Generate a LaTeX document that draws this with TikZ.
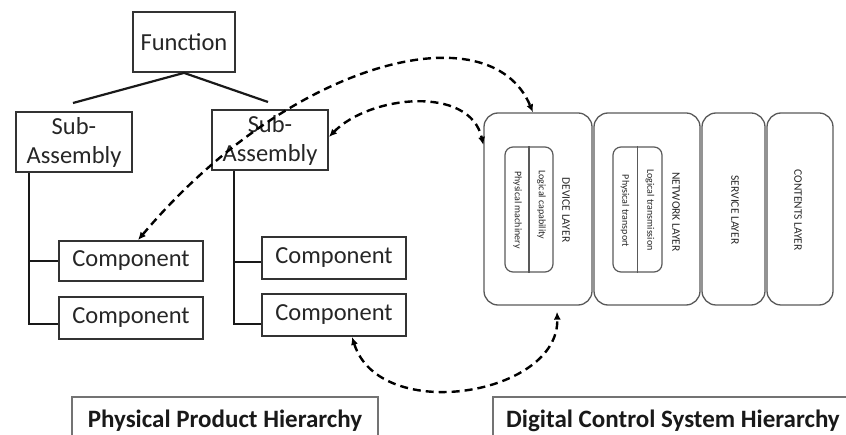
\documentclass[tikz,border=0pt]{standalone}
\usepackage{fontspec}
\setmainfont{Carlito}
\usetikzlibrary{arrows.meta,calc}

\begin{document}
\begin{tikzpicture}[x=1pt,y=-1pt,
  pbox/.style={draw=black!80, line width=1.8pt, fill=white, inner sep=2pt,
    font=\fontsize{24.5}{29}\selectfont, text=black!85},
  captionbox/.style={draw=black!55, line width=1.4pt, inner sep=0pt,
    font=\fontsize{25}{30}\selectfont\bfseries, text=black!90},
  layerbox/.style={draw=black!65, line width=1.3pt, rounded corners=14pt,
    minimum height=192pt, inner sep=0pt},
  innerbox/.style={draw=black!65, line width=1.2pt, rounded corners=8pt,
    minimum height=125pt, inner sep=0pt},
  layertext/.style={rotate=-90, font=\fontsize{10}{12}\selectfont, text=black!85, inner sep=0pt},
  layername/.style={layertext, font=\fontsize{11.5}{13}\selectfont},
  treeline/.style={line width=2.2pt, draw=black!90},
  dashlink/.style={line width=2.4pt, dash pattern=on 8pt off 5pt,
    {Latex[length=8pt,width=7pt]}-{Latex[length=8pt,width=7pt]}}
]
\useasboundingbox (0,0) rectangle (846,435);

% ---- product tree ----
\node[pbox, minimum width=102pt, minimum height=60pt] (func) at (184,42) {Function};
\node[pbox, minimum width=116pt, minimum height=60pt, align=center] (subL) at (74,142) {Sub-\\Assembly};
\node[pbox, minimum width=116pt, minimum height=60pt, align=center] (subR) at (270,140) {Sub-\\Assembly};

\node[pbox, minimum width=144pt, minimum height=40pt] (compL1) at (131,261) {Component};
\node[pbox, minimum width=144pt, minimum height=42pt] (compL2) at (131,318) {Component};
\node[pbox, minimum width=144pt, minimum height=42pt] (compR1) at (334,258) {Component};
\node[pbox, minimum width=144pt, minimum height=42pt] (compR2) at (334,315) {Component};

\coordinate (fl) at (73,103);
\coordinate (fr) at (268,102);
\draw[treeline] (fl) -- (func.south) -- (fr);

\coordinate (trunkL) at (29,0);
\coordinate (trunkR) at (234,0);
\draw[treeline] (trunkL |- subL.south) |- ([yshift=-6pt]compL2.west);
\draw[treeline] (trunkL |- compL1.west) -- (compL1.west);
\draw[treeline] (trunkR |- subR.south) |- ([yshift=-9pt]compR2.west);
\draw[treeline] ([yshift=-4pt]compR1.west -| trunkR) -- ([yshift=-4pt]compR1.west);

% ---- control system layers ----
\node[layerbox, minimum width=108pt] (dev) at (538,209) {};
\node[layerbox, minimum width=106pt] (net) at (647,209) {};
\node[layerbox, minimum width=63pt] (srv) at (733.5,209) {};
\node[layerbox, minimum width=66pt] (cnt) at (800,209) {};

\node[innerbox, minimum width=48pt] (devIn) at (529,209.5) {};
\draw[draw=black!65, line width=1.2pt] (devIn.north) -- (devIn.south);
\node[innerbox, minimum width=49pt] (netIn) at (637.5,209.5) {};
\draw[draw=black!65, line width=1.2pt] (netIn.north) -- (netIn.south);

\node[layertext] (t1) at (517.5,210) {Physical machinery};
\node[layertext] (t2) at (541.5,205) {Logical capability};
\node[layername] (t3) at (566,210) {DEVICE LAYER};
\node[layertext] (t4) at (625,211) {Physical transport};
\node[layertext] (t5) at (650,210) {Logical transmission};
\node[layername] (t6) at (676,212) {NETWORK LAYER};
\node[layername] (t7) at (735,210) {SERVICE LAYER};
\node[layername] (t8) at (798,210) {CONTENTS LAYER};

% ---- links between the hierarchies ----
\draw[dashlink] ([xshift=7pt]compL1.north) .. controls (290,60) and (490,10) .. ([xshift=-5pt]dev.north);
\draw[dashlink] ([yshift=3pt]subR.east) .. controls (370,95) and (470,85) .. ([yshift=64pt]dev.west);
\draw[dashlink] ([xshift=18pt]compR2.south) .. controls (380,425) and (560,395) .. ([xshift=19pt,yshift=-6pt]dev.south);

% ---- captions ----
\node[captionbox, minimum width=306pt, minimum height=48pt] (phys) at (225,421) {Physical Product Hierarchy};
\node[captionbox, minimum width=360pt, minimum height=48pt] (digi) at (673,421) {Digital Control System Hierarchy};
\end{tikzpicture}
\end{document}
